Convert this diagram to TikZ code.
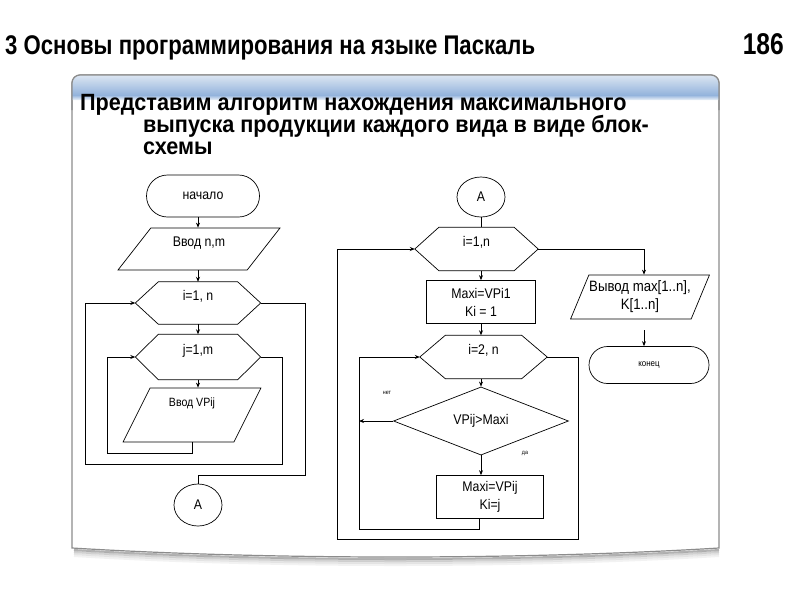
\documentclass[tikz,border=0pt]{standalone}
\usepackage{fontspec}
\setmainfont{Liberation Sans}
\newfontfamily\chartfont[FakeStretch=0.88]{Liberation Sans}
\newfontfamily\headfont[FakeStretch=0.92]{Liberation Sans}
\newfontfamily\titlefont[FakeStretch=0.82]{Liberation Sans}
\usetikzlibrary{shapes.geometric,shapes.misc,arrows.meta,positioning,calc}
\definecolor{bandtop}{HTML}{DCE6F2}
\definecolor{bandbot}{HTML}{93B3DC}
\definecolor{panelline}{HTML}{8C8C8C}

\begin{document}
\begin{tikzpicture}[x=1pt,y=-1pt,>={Stealth[length=5pt,width=4pt]},
  every node/.style={inner sep=0pt},
  chart/.style={font=\chartfont\fontsize{14}{18}\selectfont},
  tinylbl/.style={font=\chartfont\fontsize{6}{7}\selectfont},
  headline/.style={anchor=base west, font=\headfont\bfseries\fontsize{23.5}{24}\selectfont},
  flow/.style={line width=0.7pt},
  term/.style={chart, rounded rectangle, draw, flow},
  io/.style={chart, trapezium, trapezium stretches=true, trapezium left angle=#1,
    trapezium right angle={180-#1}, draw, flow},
  hexloop/.style n args={3}{chart, minimum width=#1, minimum height=#2,
    text height=10pt, text depth=15pt,
    append after command={\pgfextra{\draw[flow] ([xshift=-#3]\tikzlastnode.west)
      -- (\tikzlastnode.north west) -- (\tikzlastnode.north east) -- ([xshift=#3]\tikzlastnode.east)
      -- (\tikzlastnode.south east) -- (\tikzlastnode.south west) -- cycle;}}},
  proc/.style={chart, rectangle, draw, flow, align=center},
  conn/.style={chart, ellipse, draw, flow},
  cond/.style={chart, diamond, draw, flow}]
  \useasboundingbox (0,0) rectangle (800,600);
  \fill[white] (0,0) rectangle (800,600);

  % Slide title
  \node[anchor=base west, font=\titlefont\bfseries\fontsize{27}{28}\selectfont] (title) at (5,54)
    {3 Основы программирования на языке Паскаль};
  \node[anchor=base east, font=\titlefont\bfseries\fontsize{30}{28}\selectfont] (pagenum) at (784,54) {186};

  % Panel with shadow
  \foreach \d/\o in {2/0.3,4/0.18,6/0.1,8/0.05}
    \draw[black, opacity=\o, line width=2pt] (74,548+\d) .. controls (270,560+\d) and (520,560+\d) .. (719,548+\d);
  \draw[panelline, line width=1.2pt, fill=white] (72,548) -- (72,83) arc(180:270:8) -- (711,75) arc(270:360:8)
    -- (719,548) .. controls (520,560) and (270,560) .. (72,548) -- cycle;
  \begin{scope}
    \clip (72,100) -- (72,83) arc(180:270:8) -- (711,75) arc(270:360:8) -- (719,100) -- cycle;
    \shade[top color=bandtop, bottom color=bandbot] (72,75) rectangle (719,95);
    \shade[top color=bandbot, bottom color=white] (72,95) rectangle (719,101);
  \end{scope}
  \draw[panelline, line width=1.2pt] (72,110) -- (72,83) arc(180:270:8) -- (711,75) arc(270:360:8) -- (719,110);

  % Heading
  \node[headline] (head1) at (80,110) {Представим алгоритм нахождения максимального};
  \node[headline] (head2) at (143,132) {выпуска продукции каждого вида в виде блок-};
  \node[headline] (head3) at (143,154) {схемы};

  % Left chart: input
  \node[term, minimum width=113pt, minimum height=42pt] (start) at (203,196) {начало};
  \node[io=54.5, minimum width=163pt, minimum height=42pt, text height=10pt, text depth=15pt] (inp1) at (199,249) {Ввод n,m};
  \node[hexloop={79pt}{42pt}{23pt}] (loopI) at (198,303) {i=1, n};
  \node[hexloop={79pt}{45pt}{23pt}] (loopJ) at (198,357) {j=1,m};
  \node[io=68.7, minimum width=138pt, minimum height=54pt, text height=10pt, text depth=28pt,
    font=\chartfont\fontsize{12}{14}\selectfont] (inp2) at (192,415) {Ввод VPij};
  \node[conn, minimum width=48pt, minimum height=42pt] (conA) at (198,505) {A};

  \coordinate (jR) at (282,464);
  \coordinate (iL) at (85,464);
  \coordinate (vB) at (107,453);
  \coordinate (iR) at (305,475);

  \draw[flow,->] (start.south -| loopI) -- (inp1.north -| loopI);
  \draw[flow,->] (inp1.south -| loopI) -- (loopI.north);
  \draw[flow,->] (loopI) -- (loopJ);
  \draw[flow,->] (loopJ.south) -- (loopJ.south |- inp2.north);
  \draw[flow,->] (inp2.south) |- (vB) |- ([xshift=-23pt]loopJ.west);
  \draw[flow,->] ([xshift=23pt]loopJ.east) -| (jR) -- (iL) |- ([xshift=-23pt]loopI.west);
  \draw[flow] ([xshift=23pt]loopI.east) -| (iR) -| (conA.north);

  % Right chart: search of maximum
  \node[conn, minimum width=48pt, minimum height=40pt] (conA2) at (481,197) {A};
  \node[hexloop={75pt}{43pt}{24pt}] (loopI2) at (476.5,249) {i=1,n};
  \node[proc, minimum width=109pt, minimum height=43pt] (setMax) at (481,302) {Maxi=VPi1\\Ki = 1};
  \node[hexloop={76pt}{43pt}{25.5pt}] (loopJ2) at (483.5,357) {i=2, n};
  \node[cond, minimum width=175pt, minimum height=64pt] (test) at (481,421) {VPij>Maxi};
  \node[proc, minimum width=107pt, minimum height=43pt] (upd) at (490,497) {Maxi=VPij\\Ki=j};
  \node[io=60.4, minimum width=139pt, minimum height=44pt, align=center,
    font=\chartfont\fontsize{15}{18}\selectfont] (outp) at (640,297) {Вывод max[1..n],\\K[1..n]};
  \node[term, minimum width=120pt, minimum height=37pt, font=\chartfont\fontsize{9}{10}\selectfont] (fin) at (649,365) {конец};
  \node[tinylbl] (no) at (387,393) {нет};
  \node[tinylbl] (yes) at (525,453) {да};

  \coordinate (kB) at (479,529);
  \coordinate (kL) at (359,529);
  \coordinate (oR) at (578,539);
  \coordinate (oL) at (337,539);
  \coordinate (outT) at (644,249);

  \draw[flow] (conA2.south) -- (conA2.south |- loopI2.north);
  \draw[flow,->] (setMax.north |- loopI2.south) -- (setMax.north);
  \draw[flow,->] (setMax.south) -- (setMax.south |- loopJ2.north);
  \draw[flow,->] (test.north |- loopJ2.south) -- (test.north);
  \draw[flow,->] (test.south) -- (test.south |- upd.north);
  \draw[flow,->] (kB |- upd.south) -- (kB) -- (kL) |- ([xshift=-25.5pt]loopJ2.west);
  \draw[flow,->] (test.west) -- (test.west -| kL);
  \draw[flow,->] ([xshift=25.5pt]loopJ2.east) -| (oR) -- (oL) |- ([xshift=-24pt]loopI2.west);
  \draw[flow,->] ([xshift=24pt]loopI2.east) -- (outT) -- (outT |- outp.north);
  \draw[flow,->, shorten <=11pt] (outT |- outp.south) -- (outT |- fin.north);
\end{tikzpicture}
\end{document}
